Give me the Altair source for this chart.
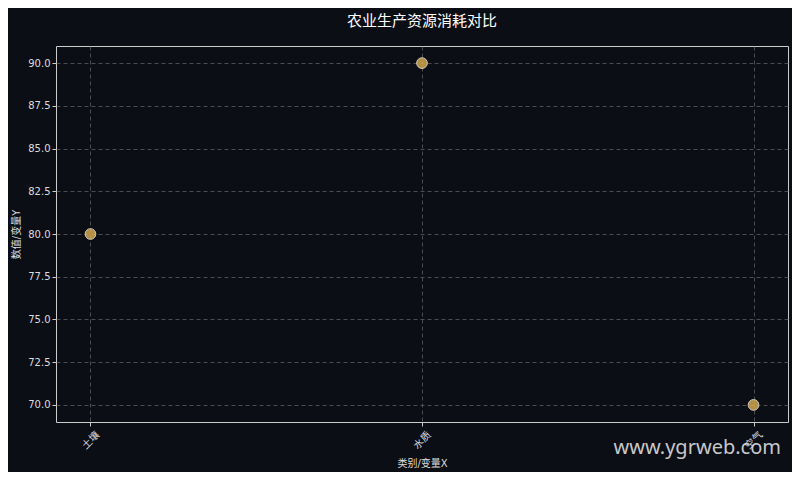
import altair as alt
import pandas as pd

categories = ["土壤", "水质", "空气"]
values = [80.0, 90.0, 70.0]
y_ticks = [70.0, 72.5, 75.0, 77.5, 80.0, 82.5, 85.0, 87.5, 90.0]

df = pd.DataFrame({"cat": categories, "val": values})

BG = "#0b0e15"
FONT = "DejaVu Sans, Noto Sans CJK SC"

base = alt.Chart(df)

points = base.mark_point(
    filled=True, size=115, color="#d1a64f", stroke="#f0e6d0", strokeWidth=1, opacity=0.85
).encode(
    x=alt.X("cat:N", sort=categories,
            scale=alt.Scale(type="point", padding=0.104),
            axis=alt.Axis(title="类别/变量X", labelAngle=315, labelAlign="center",
                          labelBaseline="middle", labelPadding=14,
                          grid=True, gridDash=[4, 3], gridColor="#666666", gridOpacity=0.7,
                          domain=False, tickColor="#cccccc", tickSize=4,
                          labelColor="#dddddd", titleColor="#dddddd",
                          labelFontSize=10, titleFontSize=10, titlePadding=8,
                          titleFontWeight="normal",
                          labelFont=FONT, titleFont=FONT)),
    y=alt.Y("val:Q",
            scale=alt.Scale(domain=[69.0, 91.0], nice=False, zero=False),
            axis=alt.Axis(title="数值/变量Y", values=y_ticks, format=".1f",
                          grid=True, gridDash=[4, 3], gridColor="#666666", gridOpacity=0.7,
                          domain=False, tickColor="#cccccc", tickSize=4,
                          labelColor="#dddddd", titleColor="#dddddd",
                          labelFontSize=10, titleFontSize=10, titlePadding=6,
                          titleFontWeight="normal",
                          labelFont=FONT, titleFont=FONT)),
)

watermark = alt.Chart(pd.DataFrame({"t": ["www.ygrweb.com"]})).mark_text(
    align="right", baseline="middle", fontSize=20, color="#dddddd", opacity=0.9,
    font="Noto Sans"
).encode(
    text="t:N",
    x=alt.value(725),
    y=alt.value(402),
)

chart = alt.layer(points, watermark).properties(
    width=732,
    height=376,
    background=BG,
    padding={"left": 48, "top": 38, "right": 4, "bottom": 50},
    autosize=alt.AutoSizeParams(type="none"),
    title=alt.TitleParams("农业生产资源消耗对比", color="#ffffff", fontSize=15,
                          font=FONT, fontWeight="normal", anchor="middle", offset=17),
).configure_view(
    stroke="#cccccc", strokeWidth=1, fill=BG
)

chart.save("out.html", embed_options={"renderer": "svg", "actions": False})
